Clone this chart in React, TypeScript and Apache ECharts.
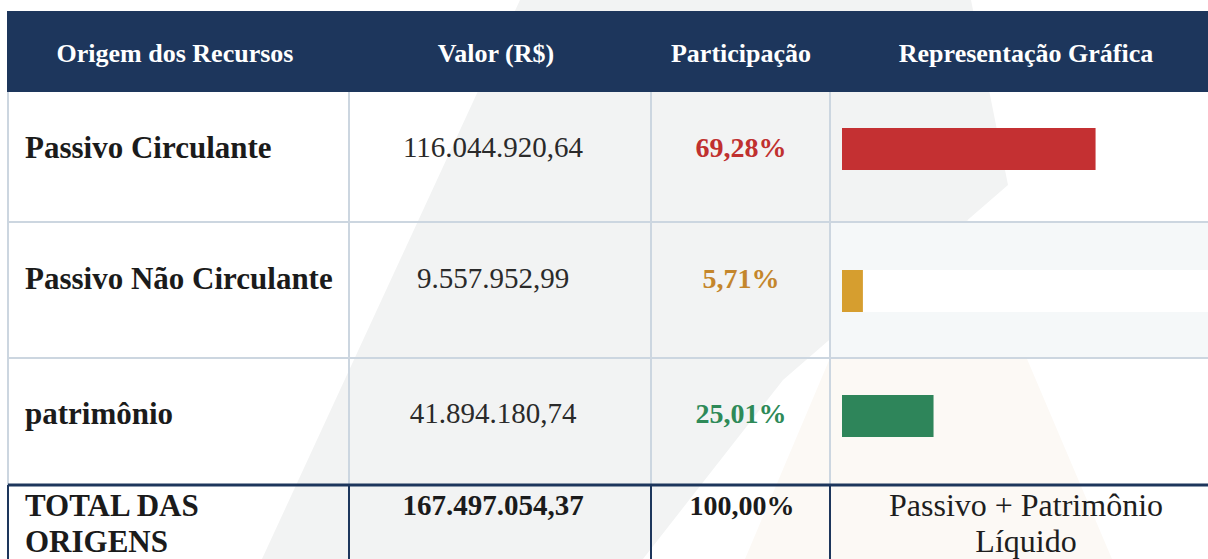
import React, { useEffect, useRef } from 'react';
import * as echarts from 'echarts';

const headers = ['Origem dos Recursos', 'Valor (R$)', 'Participação', 'Representação Gráfica'];
const categories = ['Passivo Circulante', 'Passivo Não Circulante', 'patrimônio'];
const values = [116044920.64, 9557952.99, 41894180.74];
const shares = [69.28, 5.71, 25.01];
const barColors = ['#C43032', '#D69E2F', '#2E855A'];
const shareColors = ['#C0302F', '#C4862C', '#2E8A58'];
const totalLabel = ['TOTAL DAS', 'ORIGENS'];
const totalValue = 167497054.37;
const totalShare = 100;
const totalNote = ['Passivo + Patrimônio', 'Líquido'];

function fmtBR(n: number): string {
  const [i, d] = n.toFixed(2).split('.');
  return i.replace(/\B(?=(\d{3})+(?!\d))/g, '.') + ',' + d;
}

const FONT = '"Liberation Serif", "Times New Roman", serif';
const NAVY = '#1D365C';
const GRID_LINE = '#CCD6E0';
const COLS = [8, 349, 651, 830, 1210];
const HEAD_TOP = 11;
const HEAD_BOTTOM = 92;
const HEAD_Y = 53;
const HEAD_X = [175, 496, 741, 1026];
const ROW_LINES = [92, 222, 358, 485];
const TEXT_Y = [147, 278, 413];
const BAR_TOP = [128, 270, 395];
const BAR_H = 42;
const LABEL_X = 25;
const VALUE_X = 493;
const SHARE_X = 741;
const NOTE_X = 1026;
const TOTAL_Y = [505, 541];

function txt(text: string, x: number, y: number, opts: any = {}) {
  return {
    type: 'text',
    z: 10,
    style: {
      text,
      x,
      y,
      fill: opts.fill || '#1E1E1E',
      fontFamily: FONT,
      fontSize: opts.size || 28,
      fontWeight: opts.weight || 'normal',
      align: opts.align || 'center',
      verticalAlign: 'middle',
    },
  };
}

function line(x1: number, y1: number, x2: number, y2: number, color: string, w: number) {
  return {
    type: 'line',
    z: 8,
    shape: { x1, y1, x2, y2 },
    style: { stroke: color, lineWidth: w },
  };
}

export default function App() {
  const ref = useRef<HTMLDivElement>(null);
  useEffect(() => {
    if (!ref.current) return;
    const chart = echarts.init(ref.current, undefined, { renderer: 'svg' });

    const graphic: any[] = [];
    // watermark
    graphic.push({
      type: 'polygon',
      z: 0,
      shape: { points: [[880, 240], [968, 220], [1112, 559], [745, 559]] },
      style: { fill: '#FCF9F5' },
    });
    graphic.push({
      type: 'polygon',
      z: 0,
      shape: { points: [[520, 0], [971, 0], [1008, 185], [783, 380], [643, 559], [262, 559]] },
      style: { fill: '#F2F3F3' },
    });
    // header
    graphic.push({
      type: 'rect',
      z: 1,
      shape: { x: 7, y: HEAD_TOP, width: 1210 - 7, height: HEAD_BOTTOM - HEAD_TOP },
      style: { fill: NAVY },
    });
    headers.forEach((h, i) => {
      graphic.push(txt(h, HEAD_X[i], HEAD_Y, { fill: '#FFFFFF', size: 26, weight: 'bold' }));
    });
    // striped row fill (graphic column)
    categories.forEach((_, i) => {
      if (i % 2 === 1) {
        graphic.push({
          type: 'rect',
          z: 1,
          shape: { x: COLS[3] + 1, y: ROW_LINES[i] + 1, width: 1210 - COLS[3], height: ROW_LINES[i + 1] - ROW_LINES[i] - 1 },
          style: { fill: '#F5F8F9' },
        });
      }
    });
    // grid lines body
    [ROW_LINES[1], ROW_LINES[2]].forEach((y) => graphic.push(line(COLS[0], y, 1210, y, GRID_LINE, 2)));
    COLS.slice(0, 4).forEach((x) => graphic.push(line(x, HEAD_BOTTOM, x, ROW_LINES[3], GRID_LINE, 2)));
    // total row borders
    graphic.push(line(COLS[0], ROW_LINES[3], 1210, ROW_LINES[3], NAVY, 3));
    COLS.slice(0, 4).forEach((x) => graphic.push(line(x, ROW_LINES[3], x, 570, NAVY, 2)));

    // body texts
    categories.forEach((c, i) => {
      graphic.push(txt(c, LABEL_X, TEXT_Y[i], { size: 31, weight: 'bold', align: 'left', fill: '#1B1B1B' }));
      graphic.push(txt(fmtBR(values[i]), VALUE_X, TEXT_Y[i], { size: 29, fill: '#2A2A2A' }));
      graphic.push(txt(shares[i].toFixed(2).replace('.', ',') + '%', SHARE_X, TEXT_Y[i], { size: 28, weight: 'bold', fill: shareColors[i] }));
    });
    // total row
    totalLabel.forEach((t, k) => graphic.push(txt(t, LABEL_X, TOTAL_Y[k], { size: 31, weight: 'bold', align: 'left', fill: '#1B1B1B' })));
    graphic.push(txt(fmtBR(totalValue), VALUE_X, TOTAL_Y[0], { size: 29, weight: 'bold', fill: '#1B1B1B' }));
    graphic.push(txt(totalShare.toFixed(2).replace('.', ',') + '%', SHARE_X + 1, TOTAL_Y[0], { size: 28, weight: 'bold', fill: '#1B1B1B' }));
    totalNote.forEach((t, k) => graphic.push(txt(t, NOTE_X, TOTAL_Y[k], { size: 32, fill: '#1E1E1E' })));

    const grids = categories.map((_, i) => ({ left: 842, top: BAR_TOP[i], width: 367, height: BAR_H }));
    const xAxes = categories.map((_, i) => ({ type: 'value', gridIndex: i, min: 0, max: 100, show: false }));
    const yAxes = categories.map((c, i) => ({ type: 'category', gridIndex: i, data: [c], show: false }));
    const series = categories.map((c, i) => ({
      type: 'bar',
      name: c,
      xAxisIndex: i,
      yAxisIndex: i,
      data: [shares[i]],
      barWidth: BAR_H,
      z: 5,
      itemStyle: { color: barColors[i] },
      showBackground: i % 2 === 1,
      backgroundStyle: { color: '#FFFFFF' },
      silent: true,
    }));

    chart.setOption({
      animation: false,
      backgroundColor: '#FFFFFF',
      grid: grids,
      xAxis: xAxes,
      yAxis: yAxes,
      series,
      graphic: { elements: graphic },
    });
    return () => chart.dispose();
  }, []);
  return (
    <div
      ref={ref}
      style={{ position: 'absolute', left: 0, top: 0, width: 1208, height: 559 }}
    />
  );
}
